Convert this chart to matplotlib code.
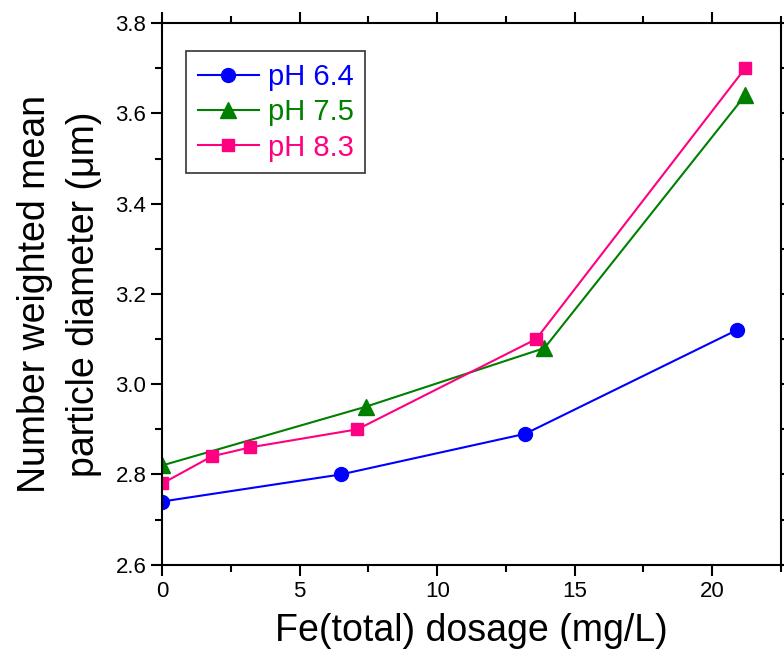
import matplotlib.pyplot as plt

plt.rcParams['font.family'] = ['Liberation Sans', 'DejaVu Sans']

# Fe dosage (mg/L) and mean particle diameter (um) for each pH
x_ph64 = [0, 6.5, 13.2, 20.9]
y_ph64 = [2.74, 2.80, 2.89, 3.12]

x_ph75 = [0, 7.4, 13.9, 21.2]
y_ph75 = [2.82, 2.95, 3.08, 3.64]

x_ph83 = [0, 1.8, 3.2, 7.1, 13.6, 21.2]
y_ph83 = [2.78, 2.84, 2.86, 2.90, 3.10, 3.70]

labels = ['pH 6.4', 'pH 7.5', 'pH 8.3']
colors = ['#0000ff', '#008000', '#ff0080']

fig = plt.figure(figsize=(7.84, 6.62), dpi=100)
ax = fig.add_axes([0.207, 0.147, 0.789, 0.818])

ax.plot(x_ph64, y_ph64, 'o-', color=colors[0], markersize=10, linewidth=1.5, label=labels[0])
ax.plot(x_ph75, y_ph75, '^-', color=colors[1], markersize=11, linewidth=1.5, label=labels[1])
ax.plot(x_ph83, y_ph83, 's-', color=colors[2], markersize=9, linewidth=1.5, label=labels[2])

ax.set_xlim(0, 22.5)
ax.set_ylim(2.6, 3.8)
ax.set_xticks([0, 5, 10, 15, 20])
ax.set_xticks([2.5, 7.5, 12.5, 17.5, 22.5], minor=True)
ax.set_yticks([2.6, 2.8, 3.0, 3.2, 3.4, 3.6, 3.8])
ax.set_yticks([2.7, 2.9, 3.1, 3.3, 3.5, 3.7], minor=True)
ax.set_yticklabels(['%.1f' % v for v in ax.get_yticks()])

ax.tick_params(which='both', direction='out', top=True, right=True, width=1.5, labelsize=16)
ax.tick_params(which='major', length=8)
ax.tick_params(which='minor', length=5)
for s in ax.spines.values():
    s.set_linewidth(1.5)

ax.set_xlabel('Fe(total) dosage (mg/L)', fontsize=27, labelpad=8)
ax.set_ylabel('Number weighted mean\nparticle diameter (\u03bcm)', fontsize=27, labelpad=10,
              linespacing=1.45)

leg = ax.legend(loc='upper left', bbox_to_anchor=(0.015, 0.975), fontsize=21, frameon=True,
                fancybox=False, edgecolor='black', handlelength=2.1, handletextpad=0.3,
                borderpad=0.4, labelspacing=0.25)
leg.get_frame().set_linewidth(1.2)
for txt, c in zip(leg.get_texts(), colors):
    txt.set_color(c)

plt.savefig('out.png', dpi=100)
